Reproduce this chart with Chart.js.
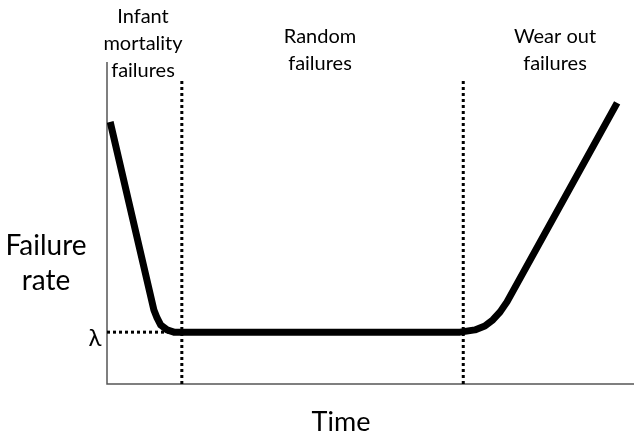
<!DOCTYPE html>
<html>
<head>
<meta charset="utf-8">
<script src="https://cdn.jsdelivr.net/npm/chart.js@4"></script>
<style>
  html, body { margin: 0; padding: 0; background: #fff; }
  #wrap { width: 640px; height: 438px; }
</style>
</head>
<body>
<div id="wrap"><canvas id="myChart"></canvas></div>
<script>
// bathtub curve, values (x: time 0-100, y: rate 0-100)
var curveX = [0.6, 8.9, 9.5, 10.2, 11.4, 12.7, 67.0, 69.8, 71.7, 73.2, 74.6, 75.9, 96.8];
var curveY = [81.4, 23.0, 20.5, 18.3, 16.8, 16.1, 16.1, 16.8, 18.0, 19.9, 22.4, 25.5, 87.3];

var lambdaLevel = 16.1;
var phaseEnds = [14.2, 67.6]; // infant mortality ends, wear out starts
var dividerTop = 94.4;

var phaseLabels = [["Infant", "mortality", "failures"], ["Random", "failures"], ["Wear out", "failures"]];
var axisLabelY = ["Failure", "rate"];
var axisLabelX = "Time";

function pts(xs, ys) {
  return xs.map(function (x, i) { return { x: x, y: ys[i] }; });
}

var dotted = {
  borderColor: "#000",
  borderWidth: 3,
  borderDash: [3, 3],
  pointRadius: 0,
  fill: false
};

var datasets = [
  Object.assign({ data: [{ x: 0, y: lambdaLevel }, { x: phaseEnds[0], y: lambdaLevel }] }, dotted),
  Object.assign({ data: [{ x: phaseEnds[0], y: 0 }, { x: phaseEnds[0], y: dividerTop }] }, dotted),
  Object.assign({ data: [{ x: phaseEnds[1], y: 0 }, { x: phaseEnds[1], y: dividerTop }] }, dotted),
  {
    data: pts(curveX, curveY),
    borderColor: "#000",
    borderWidth: 7,
    pointRadius: 0,
    tension: 0,
    borderJoinStyle: "round",
    borderCapStyle: "butt",
    fill: false
  }
];

// axis lines and the text around the plot
var decor = {
  id: "decor",
  beforeDatasetsDraw: function (chart) {
    var ctx = chart.ctx, a = chart.chartArea;
    ctx.save();
    ctx.strokeStyle = "#555";
    ctx.lineWidth = 1.5;
    ctx.beginPath();
    ctx.moveTo(a.left, a.top);
    ctx.lineTo(a.left, a.bottom);
    ctx.lineTo(a.right, a.bottom);
    ctx.stroke();
    ctx.restore();
  },
  afterDraw: function (chart) {
    var ctx = chart.ctx;
    ctx.save();
    ctx.fillStyle = "#000";
    ctx.textAlign = "center";
    ctx.textBaseline = "middle";
    ctx.font = "20px Lato";
    var cols = [[143, 17], [320, 37], [555, 37]];
    phaseLabels.forEach(function (lines, i) {
      lines.forEach(function (t, j) {
        ctx.fillText(t, cols[i][0], cols[i][1] + j * 27);
      });
    });
    ctx.font = "28px Lato";
    axisLabelY.forEach(function (t, j) {
      ctx.fillText(t, 46, 246 + j * 35);
    });
    ctx.font = "27px Lato";
    ctx.fillText(axisLabelX, 341, 422);
    ctx.font = "24px Lato";
    ctx.fillText("\u03bb", 95, 338);
    ctx.restore();
  }
};

new Chart("myChart", {
  type: "line",
  data: { datasets: datasets },
  options: {
    responsive: true,
    maintainAspectRatio: false,
    animation: false,
    layout: { padding: { left: 107, right: 6, top: 62, bottom: 54 } },
    plugins: { legend: { display: false }, tooltip: { enabled: false } },
    scales: {
      x: { type: "linear", min: 0, max: 100, display: false },
      y: { min: 0, max: 100, display: false }
    }
  },
  plugins: [decor]
});
</script>
</body>
</html>
